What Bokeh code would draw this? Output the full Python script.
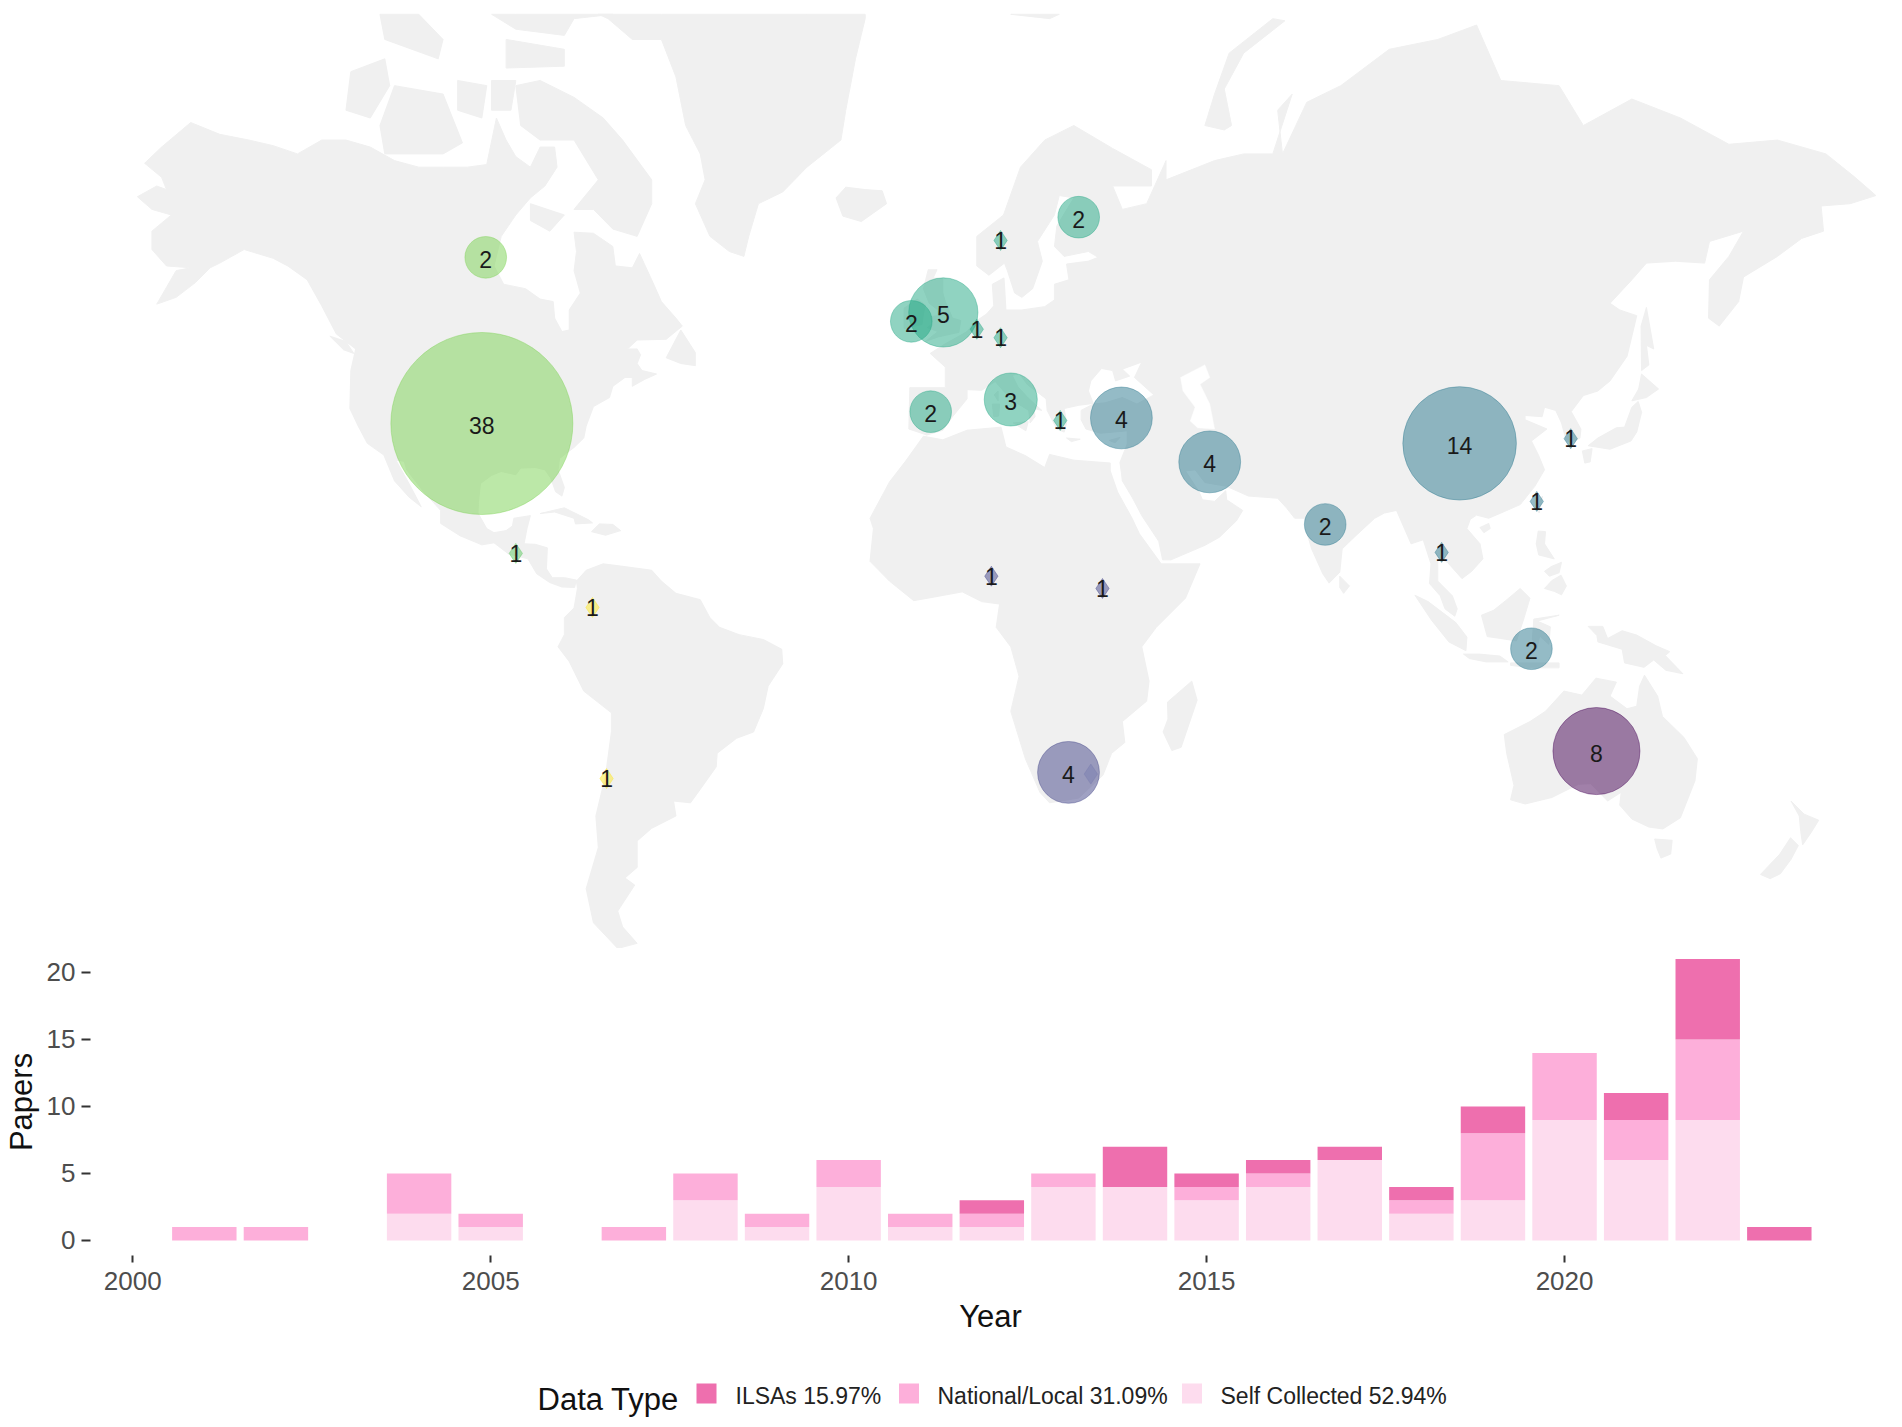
import math
from bokeh.core.properties import value
from bokeh.embed import file_html
from bokeh.models import FixedTicker, Range1d
from bokeh.plotting import figure
from bokeh.resources import INLINE

# ---- bar data, papers per year by data type
years = [2001, 2002, 2004, 2005, 2007, 2008, 2009, 2010, 2011, 2012, 2013,
         2014, 2015, 2016, 2017, 2018, 2019, 2020, 2021, 2022, 2023]
self_collected = [0, 0, 2, 1, 0, 3, 1, 4, 1, 1, 4, 4, 3, 4, 6, 2, 3, 9, 6, 9, 0]
national_local = [1, 1, 3, 1, 1, 2, 1, 2, 1, 1, 1, 0, 1, 1, 0, 1, 5, 5, 3, 6, 0]
ilsas = [0, 0, 0, 0, 0, 0, 0, 0, 0, 1, 0, 3, 1, 1, 1, 1, 2, 0, 2, 6, 1]
legend_labels = ["ILSAs 15.97%", "National/Local 31.09%", "Self Collected 52.94%"]
legend_colors = ["#EE6FAE", "#FDAFDA", "#FDDCEE"]

# ---- study counts per country
point_lon = [-97.0, -96.2, -90.0, -74.2, -71.3, -8.5, -1.9, -4.5, 9.9, 26.0, 5.0, 9.9, 12.0, 22.2,
             34.8, 53.0, 104.5, 127.4, 120.4, 100.8, 76.8, 119.3, 132.7, 23.9, 28.5, 8.0, 30.9]
point_lat = [37.9, 59.9, 14.1, 3.1, -30.6, 52.6, 53.7, 39.8, 61.6, 63.8, 51.6, 50.5, 41.7, 38.4,
             38.8, 31.4, 34.6, 35.4, 24.2, 14.3, 19.8, -5.4, -25.6, -29.5, -29.8, 9.5, 7.0]
point_n = [38, 2, 1, 1, 1, 2, 5, 2, 1, 2, 1, 1, 3, 1, 4, 4, 14, 1, 1, 1, 2, 2, 8, 4, 1, 1, 1]
point_label = ["38", "2", "1", "1", "1", "2", "5", "2", "1", "2", "1", "1", "3", "1", "4", "4",
               "14", "1", "1", "1", "2", "2", "8", "4", "", "1", "1"]
point_color = ["#7AD151", "#7AD151", "#5EC962", "#FDE725", "#FDE725", "#22A884", "#22A884", "#22A884",
               "#22A884", "#22A884", "#22A884", "#22A884", "#22A884", "#22A884", "#2A788E", "#2A788E",
               "#2A788E", "#2A788E", "#2A788E", "#2A788E", "#2A788E", "#2A788E", "#440154", "#414487",
               "#7A7DB0", "#414487", "#414487"]

# ---- coastlines, (lon, lat)
north_america = [(-168, 65.6), (-164, 66.5), (-162, 66.2), (-163, 67.2), (-166.5, 68.3), (-163, 69.5), (-157, 71.2),
                 (-151, 70.4), (-145, 70), (-140, 69.6), (-135, 69), (-130, 70), (-125, 70), (-120, 69.5), (-115, 68.5),
                 (-110, 68), (-105, 68), (-100, 68), (-96, 68.2), (-94, 71.5), (-92, 70), (-90, 68.8), (-87, 68),
                 (-85, 69.5), (-82, 69.5), (-81.5, 68), (-84, 66.5), (-87, 65.5), (-90, 64), (-93, 62), (-94.5, 59),
                 (-92.5, 57), (-88, 56.5), (-85, 55.3), (-82.3, 55), (-82, 53), (-80.5, 51.3), (-79, 51.5), (-79, 54),
                 (-76.7, 56), (-78, 58.5), (-77.5, 60.5), (-78, 62.4), (-74, 62.3), (-70, 61), (-69.5, 59), (-66, 58.8),
                 (-64.5, 60.3), (-62, 57.5), (-60, 55), (-57, 53), (-55.7, 52), (-59, 50.3), (-65, 50.2), (-67, 49),
                 (-65, 49), (-64.3, 48.2), (-65, 47), (-64, 46), (-61, 45.5), (-63.5, 44.7), (-66, 43.7), (-66, 45),
                 (-67.5, 45), (-70, 43.7), (-70.7, 42), (-74, 40.6), (-75.5, 37.5), (-76, 35.5), (-78, 33.9), (-81, 32),
                 (-81.3, 30), (-80, 26.8), (-80.5, 25.2), (-81.8, 26), (-82.8, 28.5), (-84, 30), (-86, 30.4), (-89, 30.3),
                 (-90, 29.1), (-93, 29.7), (-95, 29), (-97.3, 27.5), (-97.7, 24), (-97.8, 22), (-96, 19), (-94.5, 18.2),
                 (-92, 18.6), (-90.7, 19.5), (-90.4, 21), (-87, 21.5), (-87.7, 19), (-88.3, 16), (-86, 15.9), (-83.5, 15.2),
                 (-83.7, 11), (-82.5, 9.2), (-80, 9.2), (-77.5, 8.7), (-77.9, 7.2), (-80.5, 7.3), (-83, 8.2), (-85.7, 10),
                 (-87.5, 13), (-91.5, 14), (-94.5, 16.2), (-97, 15.8), (-101.5, 17.6), (-105.5, 20), (-105.5, 22.5),
                 (-109, 26), (-112.5, 30), (-113, 31.5), (-114.7, 31.7), (-112, 27.5), (-109.5, 23.2), (-112, 25),
                 (-115, 28), (-117.2, 32.6), (-120.6, 34.6), (-122.5, 37.5), (-124.2, 40.3), (-124, 46), (-123, 49),
                 (-127, 51), (-130, 54.5), (-133, 57.5), (-137, 59), (-140, 59.8), (-146, 60.7), (-151, 59.3), (-153, 58.8),
                 (-156, 57.2), (-160, 55.5), (-164, 54.7), (-160, 58.5), (-157, 58.8), (-162, 59), (-165, 60.7), (-165, 62.5),
                 (-161, 64), (-165, 64.5)]
south_america = [(-72, 12), (-68, 11.5), (-62, 10.7), (-60, 8.5), (-57, 6), (-52, 4.7), (-50, 1), (-48, -1), (-44, -2.5),
                 (-39, -3.5), (-35.2, -5.5), (-35, -8.5), (-38, -13), (-39, -17.5), (-41, -22), (-44.5, -23.2), (-48.5, -26),
                 (-48.7, -28.5), (-52, -32.5), (-54, -34.8), (-57.5, -34.5), (-57, -37), (-62, -39), (-65, -41), (-65, -45),
                 (-67.5, -46.5), (-65.5, -47.5), (-69, -51), (-68, -53), (-65, -55), (-69, -55.6), (-74, -52.5), (-75.5, -48),
                 (-73, -42), (-73.5, -37), (-71.5, -30), (-70.3, -22), (-70.3, -18.3), (-76, -14), (-79, -8), (-81.3, -5),
                 (-80, -2.5), (-80, 1), (-78, 3), (-77.3, 7), (-77.5, 8.5), (-75.5, 10.7)]
africa = [(-6, 35.8), (-2, 35.2), (3, 36.8), (10, 37.3), (11, 34), (15, 32.5), (19, 30.4), (20, 32.7), (25, 31.7), (32.5, 31.2),
          (32.5, 29.8), (34, 26), (37, 21), (38.5, 18), (43, 12), (51, 12), (48, 5), (42, -1), (39, -5), (40.5, -12), (40, -16),
          (35, -20), (35.5, -24), (32.8, -26), (31, -30), (26, -34), (20, -34.8), (18, -33), (15, -27), (12, -18), (13.7, -11),
          (12, -5), (9, -1), (9.7, 3.8), (6, 4.3), (2, 6.3), (-4, 5.2), (-8, 4.5), (-13, 8.5), (-17, 12.5), (-16.3, 19), (-17, 21),
          (-13, 27.8), (-9.7, 31.5)]
eurasia = [(-9, 37), (-6, 36.2), (-5.3, 36), (-2, 36.8), (0, 39), (3, 41.8), (3, 43.2), (6, 43.1), (8.8, 44.4), (10.5, 43),
           (12.5, 41.5), (15.7, 40), (16, 38), (17, 39), (16.8, 40.3), (18.4, 40), (15.5, 42), (13.5, 43.6), (12.3, 45.3),
           (13.7, 45.6), (15.5, 43.9), (19.3, 41.8), (19.5, 40), (21.5, 37), (23, 36.5), (23.5, 38), (23, 40.3), (26, 40.8),
           (29, 41.1), (28, 43), (28.5, 44.5), (30.7, 46.3), (33, 46), (33.6, 44.5), (36.5, 45.2), (35, 46.2), (39, 47.2),
           (37.5, 45), (41.5, 42.4), (38, 41), (35, 42), (31.5, 41.2), (29, 41), (26.5, 40), (26.5, 38.5), (27.5, 37),
           (30.5, 36.3), (36, 36.7), (36, 34.5), (34.5, 31.3), (34.8, 29.5), (35, 28), (37, 25), (39, 21.5), (42.5, 16.5),
           (43.3, 12.8), (45, 12.8), (52, 15.7), (55, 17.3), (58.5, 20.5), (59.8, 22.5), (56.5, 24.5), (56.3, 26.2), (54, 24.2),
           (51.5, 24.5), (50.8, 26), (48, 29.8), (50, 30), (52, 27.7), (56.5, 27), (61, 25.2), (67, 24.8), (68.8, 23), (70.5, 21),
           (72.6, 21), (72.8, 19), (74, 15), (76.3, 10), (77.6, 8.1), (79.8, 10.3), (80.3, 15), (83, 17.5), (87, 21), (89, 22),
           (91.5, 22.5), (94.5, 16), (97, 16.8), (98.6, 12), (98.3, 8), (100.5, 5.5), (101.5, 2.8), (103.5, 1.3), (104, 2.8),
           (103, 5.5), (100, 8.5), (100, 13.3), (102, 12.3), (105, 9), (107, 10.5), (109.3, 13), (108.7, 16), (106, 19),
           (106.7, 20.8), (108, 21.6), (110.5, 21), (113.5, 22.2), (117, 23.6), (120, 27), (122, 30), (120.8, 32.5), (119.3, 35),
           (122.5, 37), (118, 38.5), (118, 39.2), (121.5, 39), (122, 40.5), (124.3, 40), (125.5, 38), (126.5, 35), (127.5, 34.7),
           (129.3, 35.5), (129.5, 37), (127.5, 39.8), (130, 42.3), (133, 43), (135.5, 44.5), (139, 48), (140.5, 52), (141, 53.3),
           (137.5, 54), (135.5, 54.8), (140, 57.5), (143, 59.3), (149, 59.5), (155, 59.3), (156, 61.5), (163, 62.5), (160, 60),
           (156, 57.5), (155.8, 53), (158, 52), (162, 55), (163, 57.8), (170, 60), (175, 61.8), (179.5, 62.5), (179, 64.8),
           (185, 65), (190.3, 65.7), (186, 67.2), (180, 69), (170, 70), (160, 69.7), (150, 71.5), (140, 72.7), (130, 71),
           (125, 73.5), (113, 73.8), (108, 76.7), (100, 76), (90, 75.5), (80, 73.5), (73, 72.5), (68, 69), (67, 72), (70, 73),
           (66, 69), (60, 69), (54, 68.5), (44, 67), (44, 68.5), (40, 65), (35, 64.5), (33, 66.5), (41, 66.5), (41, 67.8),
           (33, 69.4), (25, 71), (19, 70), (14, 68), (10.5, 64), (5, 62), (5, 59), (7.5, 58), (10.7, 59.3), (11.3, 58.5),
           (12.8, 56), (14.3, 55.5), (16.5, 56.5), (18.5, 59.5), (17.5, 61.5), (21, 64), (22, 65.7), (25, 65.5), (21.5, 63),
           (21, 61), (23, 60), (28, 60.5), (30, 59.9), (28, 59.5), (23.5, 59.2), (24, 57.5), (21, 57), (21, 55.2), (19, 54.4),
           (14.3, 54), (11, 54), (10.8, 56), (10.6, 57.7), (8.2, 57), (8.5, 54.5), (7, 53.5), (4.5, 52.5), (3, 51.3), (1.6, 50.8),
           (-1.5, 49.7), (-4.6, 48.4), (-1.5, 46.5), (-1.5, 43.5), (-8.8, 43.5)]
greenland = [(-73, 78.2), (-71, 77), (-66, 76), (-60, 76), (-57, 74), (-55, 71), (-52, 69), (-51, 67), (-53, 65), (-50, 62),
             (-46, 60.5), (-43, 60), (-42, 62), (-40, 65), (-35, 66), (-30, 68), (-23, 70), (-22, 72), (-20, 75), (-18, 77),
             (-18, 80), (-30, 83), (-60, 82)]
baffin = [(-90, 73.5), (-85, 73.8), (-78, 72.8), (-72, 71.5), (-68, 70), (-62, 67), (-62, 65), (-65, 62), (-70, 62.7), (-74, 64.5),
          (-78, 64.5), (-73, 67), (-78, 70), (-85, 70), (-89, 71)]
victoria = [(-117, 69), (-105, 69), (-101, 69.8), (-105, 73), (-115, 73.5), (-118, 71)]
banks = [(-125, 72), (-120, 71.5), (-116, 73.5), (-117, 75), (-124, 74.3)]
ellesmere = [(-90, 76.5), (-80, 76.2), (-78, 77), (-70, 78), (-90, 80), (-95, 77.5)]
devon = [(-92, 76), (-80, 75.5), (-80, 74.6), (-92, 74.5)]
melville = [(-117, 76), (-106, 75), (-105, 76), (-110, 78), (-118, 77.5)]
somerset = [(-95, 73.8), (-90, 73.8), (-91, 72), (-95, 72)]
prince_of_wales = [(-102, 73.8), (-96, 73.5), (-97, 71.5), (-102, 72)]
southampton = [(-87, 65), (-80, 64), (-83, 62.5), (-87, 63.5)]
newfoundland = [(-59, 47.8), (-56, 51.5), (-53, 48.5), (-53, 46.7), (-56, 47)]
vancouver = [(-128.3, 50.7), (-125, 50), (-123.4, 48.4), (-125.5, 48.9)]
cuba = [(-85, 21.9), (-80, 23), (-75, 20.7), (-74.2, 20.1), (-77.7, 19.9), (-78, 21), (-82, 22.2)]
hispaniola = [(-74.4, 18.4), (-72.8, 19.9), (-70, 19.8), (-68.4, 18.6), (-71.5, 17.7)]
iceland = [(-24, 65.5), (-22, 66.4), (-18, 66.2), (-14.5, 66.1), (-13.6, 65), (-18.8, 63.4), (-22.6, 63.9)]
britain = [(-5.6, 50), (-3, 50.6), (1.3, 51.2), (1.7, 52.7), (0, 53), (-1.5, 55), (-2, 56), (-2, 57.6), (-4, 57.7), (-3.2, 58.6),
           (-5, 58.6), (-6, 56.5), (-4.8, 54.8), (-3, 54), (-3, 53.3), (-4.5, 53.2), (-4.2, 52.3), (-5.2, 51.8), (-3, 51.3)]
ireland = [(-10, 51.7), (-6.3, 52.2), (-6, 53.5), (-5.6, 54.6), (-7.3, 55.3), (-10, 54.2)]
novaya_zemlya = [(52, 71), (56, 70.7), (57.5, 71), (56, 73.3), (60, 75.3), (68.5, 76.9), (66, 77), (57, 75.3), (54, 73)]
svalbard = [(12, 78), (20, 77), (22, 78), (18, 80), (12, 79.5)]
sicily = [(12.5, 38), (15.6, 38.2), (15.1, 36.7)]
sardinia = [(8.2, 41), (9.7, 41), (9.5, 39.1), (8.5, 39)]
corsica = [(8.6, 42.4), (9.4, 43), (9.4, 41.5)]
crete = [(23.5, 35.5), (26.3, 35.3), (24.5, 34.9)]
cyprus = [(32.3, 35.1), (34.5, 35.6), (33.5, 34.7)]
madagascar = [(49.3, -12), (50.4, -15.8), (47.1, -24.9), (45.2, -25.5), (43.4, -22), (44.4, -19.5), (44.3, -16.2)]
sri_lanka = [(79.8, 9.5), (81.8, 7.5), (80.6, 6), (79.8, 7.2)]
honshu = [(131, 34.2), (135.5, 33.6), (139.8, 35), (141, 36.5), (142, 39.7), (141.3, 41.4), (140, 40.5), (138.5, 37.3), (136.8, 37.2),
          (133, 35.5)]
hokkaido = [(140, 41.5), (143, 42), (145.5, 43.3), (142, 45.5), (141.4, 43.3)]
kyushu = [(129.8, 33.3), (131.8, 33.7), (131.4, 31.4), (130.3, 31.2)]
sakhalin = [(142, 46), (143.5, 46.8), (143, 49.5), (144.5, 49), (143, 54.3), (141.9, 52)]
taiwan = [(120.2, 23), (121.6, 25.2), (120.9, 22)]
hainan = [(108.7, 19.2), (110.5, 20), (110.8, 19), (109.5, 18.2)]
luzon = [(120.3, 16), (120.7, 18.5), (122.2, 18.4), (122, 16), (124, 13), (120.8, 13.8)]
mindanao = [(122, 7), (123.5, 8.6), (125.4, 9.7), (126.5, 7.5), (125.5, 5.7), (124, 6.4)]
visayas = [(122, 10.5), (123.5, 11.5), (125.5, 12.3), (125, 10.2), (123, 9.5)]
borneo = [(109, 1.5), (111.5, 2.5), (114, 4.5), (117, 7), (119, 5), (117.8, 1), (116.2, -3.8), (113, -3.3), (110.2, -2.9)]
sumatra = [(95.3, 5.6), (98, 4.3), (103.7, 0), (106, -3), (105.8, -5.8), (102.3, -4), (98.7, 0.5)]
java = [(105.3, -6.5), (108.5, -6.5), (112.8, -6.9), (114.5, -8.1), (110, -8.1), (106.5, -7.4)]
sulawesi = [(119.5, -3.4), (119.8, 0.7), (125, 1.5), (120.5, 0.3), (123.2, -0.9), (122.9, -4.5), (121, -2.8), (120.4, -5.5)]
lesser_sunda = [(115, -8.3), (119, -8.3), (125, -8.3), (125, -9.3), (119, -9.3), (115, -8.8)]
new_guinea = [(131, -0.8), (134, -0.8), (135, -3.3), (138, -1.7), (141, -2.6), (145, -4.8), (147.8, -6), (146.9, -6.8), (150.5, -10.5),
              (147, -9.8), (144.5, -7.7), (142.5, -9.2), (138.5, -8.3), (138, -5.5), (133, -4), (132.8, -2.7)]
australia = [(113.7, -22.5), (114.2, -26), (115.7, -31.8), (115, -34.3), (118, -35), (123.5, -33.9), (129, -31.6), (131.5, -31.5),
             (135, -34.5), (137.8, -33), (137.5, -35.2), (140, -37.5), (143.5, -38.8), (146.4, -39.1), (150, -37.3), (153, -31),
             (153.5, -27), (150.7, -23), (146.3, -19), (145.3, -15), (142.6, -10.8), (141.6, -13), (141, -17), (139, -17.5),
             (135.5, -15), (136.8, -12.2), (132.6, -11.4), (129.7, -14.8), (126, -14), (122.2, -18), (119, -20)]
tasmania = [(144.7, -40.7), (148.3, -40.9), (148, -43), (146, -43.6), (145.2, -42.2)]
nz_north = [(172.8, -34.5), (175.5, -36.7), (178.5, -37.7), (177, -39.6), (175.2, -41.6), (174.8, -39.5), (174.5, -37)]
nz_south = [(172.7, -40.5), (174.3, -41.7), (172.8, -43.8), (170.6, -45.9), (168.5, -46.6), (166.5, -46), (170.5, -43)]

land = [north_america, south_america, africa, eurasia, greenland, baffin, victoria, banks, ellesmere, devon, melville, somerset,
        prince_of_wales, southampton, newfoundland, vancouver, cuba, hispaniola, iceland, britain, ireland, novaya_zemlya,
        svalbard, sicily, sardinia, corsica, crete, cyprus, madagascar, sri_lanka, honshu, hokkaido, kyushu, sakhalin, taiwan,
        hainan, luzon, mindanao, visayas, borneo, sumatra, java, sulawesi, lesser_sunda, new_guinea, australia, tasmania,
        nz_north, nz_south]

caspian = [(47, 45), (52, 46.8), (53, 45), (51, 44), (53, 41), (54, 37), (50.5, 37.2), (49, 38.3), (50, 40.5), (47.5, 43)]
lakes = [caspian]

TOP_LAT = 77.2


def merc(lat):
    return math.log(math.tan(math.radians(45 + min(lat, TOP_LAT) / 2)))


def shapes(rings):
    return [[c[0] for c in r] for r in rings], [[merc(c[1]) for c in r] for r in rings]


m = figure(width=1890, height=948, output_backend="svg", toolbar_location=None,
           x_range=Range1d(-196.2, 193.3), y_range=Range1d(-1.1727, 2.2374),
           x_axis_location=None, y_axis_location=None, min_border=0)
m.grid.visible = False
m.outline_line_color = None

xs, ys = shapes(land)
m.patches(xs, ys, fill_color="#F0F0F0", line_color="#F0F0F0", line_width=1)
xs, ys = shapes(lakes)
m.patches(xs, ys, fill_color="white", line_color="white", line_width=0.5)

# bubble radius follows ggplot's area scale between n=1 and n=38
sizes = [20 if n == 1 else 2 * (7 + 84 * math.sqrt((n - 1) / 37)) for n in point_n]
markers = ["diamond" if n == 1 else "circle" for n in point_n]
offsets = [0 if n == 1 else 2 for n in point_n]
src = dict(x=point_lon, y=[merc(v) for v in point_lat], size=sizes, marker=markers, color=point_color,
           label=point_label, dy=offsets)
m.scatter("x", "y", size="size", marker="marker", fill_color="color", line_color="color",
          fill_alpha=0.5, line_alpha=0.4, line_width=1, source=src)
m.text("x", "y", text="label", text_font=value("Liberation Sans"), text_font_size="23px", text_color="#1a1a1a",
       text_align="center", text_baseline="middle", y_offset="dy", source=src)

# ---- bars
p = figure(width=1890, height=422, output_backend="svg", toolbar_location=None,
           x_range=Range1d(1999.41, 2024.553), y_range=Range1d(-1.12, 21.79),
           min_border_left=90, min_border_right=0, min_border_top=0, min_border_bottom=115)
p.grid.visible = False
p.outline_line_color = None

tops_self = self_collected
tops_nat = [a + b for a, b in zip(tops_self, national_local)]
tops_ils = [a + b for a, b in zip(tops_nat, ilsas)]
p.vbar(x=years, width=0.9, bottom=0, top=tops_self, fill_color=legend_colors[2], line_color=None)
p.vbar(x=years, width=0.9, bottom=tops_self, top=tops_nat, fill_color=legend_colors[1], line_color=None)
p.vbar(x=years, width=0.9, bottom=tops_nat, top=tops_ils, fill_color=legend_colors[0], line_color=None)

p.xaxis.ticker = FixedTicker(ticks=[2000, 2005, 2010, 2015, 2020])
p.yaxis.ticker = FixedTicker(ticks=[0, 5, 10, 15, 20])
p.axis.axis_line_color = None
p.axis.minor_tick_line_color = None
p.axis.major_tick_line_color = "#333333"
p.axis.major_tick_line_width = 2
p.axis.major_tick_in = 0
p.xaxis.major_tick_out = 7
p.yaxis.major_tick_out = 9
p.axis.major_label_text_font = "Liberation Sans"
p.axis.major_label_text_font_size = "26px"
p.axis.major_label_text_color = "#4D4D4D"
p.xaxis.major_label_standoff = 9
p.yaxis.major_label_standoff = 6
p.xaxis.axis_label = "Year"
p.yaxis.axis_label = "Papers"
p.axis.axis_label_text_font = "Liberation Sans"
p.axis.axis_label_text_font_size = "31px"
p.axis.axis_label_text_font_style = "normal"
p.axis.axis_label_text_color = "#111111"
p.xaxis.axis_label_standoff = 6
p.yaxis.axis_label_standoff = 5

# ---- legend strip, in page pixels
k = figure(width=1890, height=50, output_backend="svg", toolbar_location=None,
           x_range=Range1d(0, 1890), y_range=Range1d(1420, 1370),
           x_axis_location=None, y_axis_location=None, min_border=0)
k.grid.visible = False
k.outline_line_color = None
k.rect(x=[706, 908.5, 1191.5], y=[1393] * 3, width=20, height=20, fill_color=legend_colors, line_color=None)
k.text(x=[735, 937, 1220], y=[1395] * 3, text=legend_labels, text_font=value("Liberation Sans"), text_font_size="23px",
       text_color="#222222", text_baseline="middle")
k.text(x=[537], y=[1399], text=["Data Type"], text_font=value("Liberation Sans"), text_font_size="31px",
       text_color="#111111", text_baseline="middle")

open("out.html", "w").write(file_html([m, p, k], INLINE))
